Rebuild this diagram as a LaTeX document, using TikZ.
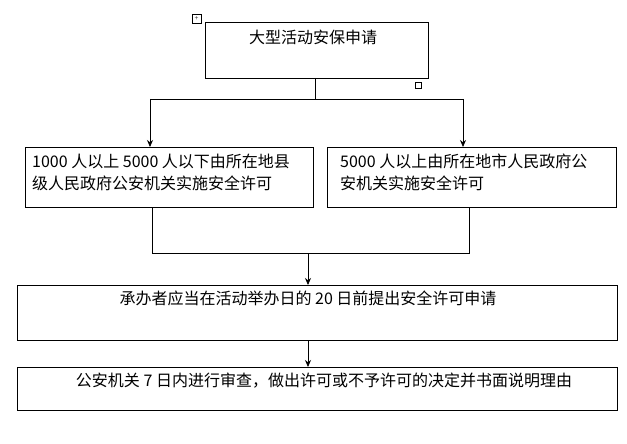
\documentclass[tikz,border=0pt]{standalone}
\usepackage{fontspec}
\setmainfont{Liberation Serif}
\newfontfamily\cjk{Noto Sans CJK SC}
\usetikzlibrary{arrows.meta}
\begin{document}
\begin{tikzpicture}[x=1pt,y=-1pt,
  box/.style={draw,line width=0.8pt},
  lbl/.style={font=\cjk\fontsize{16}{22}\selectfont,inner sep=0pt},
  ln/.style={line width=0.8pt},
  arr/.style={line width=0.8pt,-{Stealth[length=7pt,width=6pt]}}]
\useasboundingbox (0,0) rectangle (627,444);
\draw[box] (205,22) rectangle (428,78);
\node[lbl] (t1) at (313,37) {大型活动安保申请};
\draw[line width=0.5pt] (192,14) rectangle (201,23);
\node[font=\scriptsize,inner sep=0pt] (mv) at (196.5,18.5) {+};
\draw[line width=0.5pt] (415,82) rectangle (421,88);
\coordinate (a) at (315,78);
\coordinate (b) at (315,99);
\coordinate (bl) at (150,99);
\coordinate (br) at (463,99);
\draw[ln] (a) -- (b);
\draw[ln] (bl) -- (br);
\draw[box] (25,147) rectangle (313,207);
\draw[box] (327,147) rectangle (616,207);
\coordinate (l2) at (150,147);
\coordinate (r2) at (463,147);
\draw[arr] (bl) -- (l2);
\draw[arr] (br) -- (r2);
\node[lbl,anchor=west] (t2a) at (32,161) {1000 人以上 5000 人以下由所在地县};
\node[lbl,anchor=west] (t2b) at (32,183) {级人民政府公安机关实施安全许可};
\node[lbl,anchor=west] (t3a) at (340,161) {5000 人以上由所在地市人民政府公};
\node[lbl,anchor=west] (t3b) at (340,183) {安机关实施安全许可};
\coordinate (c1) at (152,207);
\coordinate (c2) at (152,253);
\coordinate (d1) at (469,207);
\coordinate (d2) at (469,253);
\coordinate (m) at (308,253);
\coordinate (m2) at (308,285);
\draw[ln] (c1) -- (c2) -- (d2) -- (d1);
\draw[arr] (m) -- (m2);
\draw[box] (17,285) rectangle (617,340);
\node[lbl] (t4) at (308,298) {承办者应当在活动举办日的 20 日前提出安全许可申请};
\coordinate (e1) at (308,340);
\coordinate (e2) at (308,367);
\draw[arr] (e1) -- (e2);
\draw[box] (17,367) rectangle (617,410);
\node[lbl] (t5) at (324,381) {公安机关 7 日内进行审查，做出许可或不予许可的决定并书面说明理由};
\end{tikzpicture}
\end{document}
